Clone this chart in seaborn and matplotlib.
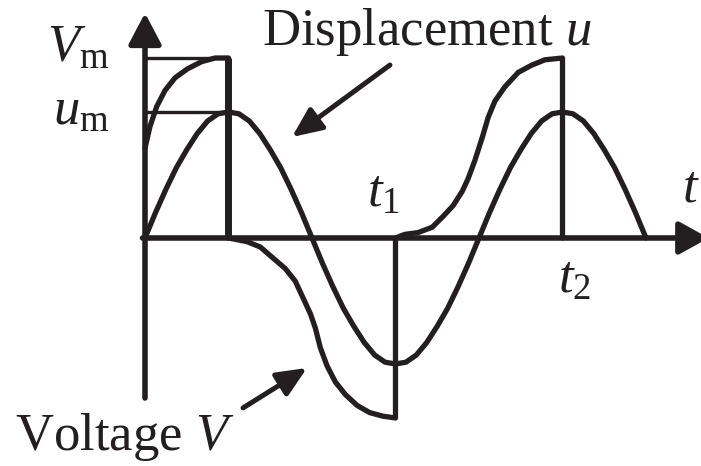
import numpy as np
import pandas as pd
import matplotlib
matplotlib.use("Agg")
import matplotlib.pyplot as plt
import seaborn as sns

# Time in quarter periods of the displacement wave; amplitudes relative to V_m
u_t = [0.0, 0.125, 0.25, 0.375, 0.5, 0.625, 0.75, 0.875,
       1.0, 1.125, 1.25, 1.375, 1.5, 1.625, 1.75, 1.875,
       2.0, 2.125, 2.25, 2.375, 2.5, 2.625, 2.75, 2.875,
       3.0, 3.125, 3.25, 3.375, 3.5, 3.625, 3.75, 3.875,
       4.0, 4.125, 4.25, 4.375, 4.5, 4.625, 4.75, 4.875,
       5.0, 5.125, 5.25, 5.375, 5.5, 5.625, 5.75, 5.875, 6.0]
u_val = [0.0, 0.14, 0.27, 0.39, 0.49, 0.58, 0.65, 0.69,
         0.70, 0.69, 0.65, 0.58, 0.49, 0.39, 0.27, 0.14,
         0.0, -0.14, -0.27, -0.39, -0.49, -0.58, -0.65, -0.69,
         -0.70, -0.69, -0.65, -0.58, -0.49, -0.39, -0.27, -0.14,
         0.0, 0.14, 0.27, 0.39, 0.49, 0.58, 0.65, 0.69,
         0.70, 0.69, 0.65, 0.58, 0.49, 0.39, 0.27, 0.14, 0.0]

# Drive voltage path (vertical jumps at t = 1, t1 and t2)
v_t = [0.0, 0.06, 0.14, 0.24, 0.36, 0.51, 0.68, 0.84, 1.0,
       1.0, 1.22, 1.38, 1.53, 1.68, 1.80, 1.89, 1.98, 2.04, 2.10,
       2.18, 2.28, 2.40, 2.54, 2.69, 2.85, 3.0,
       3.0, 3.11, 3.27, 3.44, 3.57, 3.69, 3.80, 3.87, 3.95, 4.04,
       4.11, 4.19, 4.31, 4.47, 4.63, 4.79, 5.0,
       5.0]
v_val = [0.50, 0.62, 0.73, 0.82, 0.89, 0.94, 0.98, 1.0, 1.0,
         0.0, -0.02, -0.05, -0.11, -0.17, -0.24, -0.33, -0.42, -0.50, -0.61,
         -0.71, -0.80, -0.87, -0.93, -0.97, -0.99, -1.0,
         0.0, 0.02, 0.03, 0.06, 0.12, 0.18, 0.26, 0.33, 0.43, 0.56,
         0.67, 0.76, 0.84, 0.92, 0.96, 0.99, 1.0,
         0.0]

V_M = 1.0
U_M = 0.70
T_PEAK, T1, T2 = 1.0, 3.0, 5.0

sns.set_theme(style="white")
plt.rcParams["font.family"] = ["Liberation Serif", "DejaVu Serif"]
plt.rcParams["mathtext.fontset"] = "custom"
plt.rcParams["mathtext.rm"] = "Liberation Serif"
plt.rcParams["mathtext.it"] = "Liberation Serif:italic"

INK = "#231f20"
FS = 38
XLIM = (-1.7365, 6.6587)
YLIM = (-1.2667, 1.3222)

fig = plt.figure(figsize=(7.01, 4.66), dpi=100)
ax = fig.add_axes([0, 0, 1, 1])

df_u = pd.DataFrame({"t": u_t, "value": u_val})
df_v = pd.DataFrame({"t": v_t, "value": v_val})
sns.lineplot(data=df_u, x="t", y="value", sort=False, estimator=None,
             color=INK, lw=3.8, ax=ax, solid_joinstyle="round")
sns.lineplot(data=df_v, x="t", y="value", sort=False, estimator=None,
             color=INK, lw=3.8, ax=ax, solid_joinstyle="round")
ax.plot([T_PEAK, T_PEAK], [0, V_M], color=INK, lw=5.0, solid_capstyle="butt")

# Guide lines for the amplitudes
ax.plot([0, T_PEAK], [V_M, V_M], color=INK, lw=2.4, solid_capstyle="butt")
ax.plot([0, T_PEAK], [U_M, U_M], color=INK, lw=2.4, solid_capstyle="butt")

ax.set_xlim(*XLIM)
ax.set_ylim(*YLIM)
ax.axis("off")

# Axes with arrow heads
ax.annotate("", xy=(6.75, 0), xytext=(-0.03, 0), annotation_clip=False,
            arrowprops=dict(arrowstyle="-|>,head_length=0.36,head_width=0.2",
                            mutation_scale=50, lw=4.0, color=INK,
                            shrinkA=0, shrinkB=0))
ax.annotate("", xy=(0, 1.25), xytext=(0, -0.889), annotation_clip=False,
            arrowprops=dict(arrowstyle="-|>,head_length=0.38,head_width=0.2",
                            mutation_scale=50, lw=4.0, color=INK,
                            shrinkA=0, shrinkB=0))

# Labels
ax.text(-1.174, 0.978, r"$V_\mathrm{m}$", fontsize=FS, color=INK, ha="left", va="baseline")
ax.text(-1.102, 0.628, r"$u_\mathrm{m}$", fontsize=FS, color=INK, ha="left", va="baseline")
ax.text(6.43, 0.20, r"$t$", fontsize=FS, color=INK, ha="left", va="baseline")
ax.text(2.66, 0.172, r"$t_1$", fontsize=FS, color=INK, ha="left", va="baseline")
ax.text(4.946, -0.306, r"$t_2$", fontsize=FS, color=INK, ha="left", va="baseline")

ax.text(1.40, 1.072, r"Displacement $u$", fontsize=FS, color=INK, ha="left", va="baseline")
ax.text(-1.557, -1.178, r"Voltage $V$", fontsize=FS, color=INK, ha="left", va="baseline")

arrow_kw = dict(arrowstyle="-|>,head_length=0.45,head_width=0.2",
                mutation_scale=40, lw=3.6, color=INK, shrinkA=0, shrinkB=0)
ax.annotate("", xy=(1.760, 0.561), xytext=(2.934, 0.961), arrowprops=arrow_kw)
ax.annotate("", xy=(1.940, -0.722), xytext=(1.174, -0.944), arrowprops=arrow_kw)

fig.savefig("out.png", dpi=100, facecolor="white")
